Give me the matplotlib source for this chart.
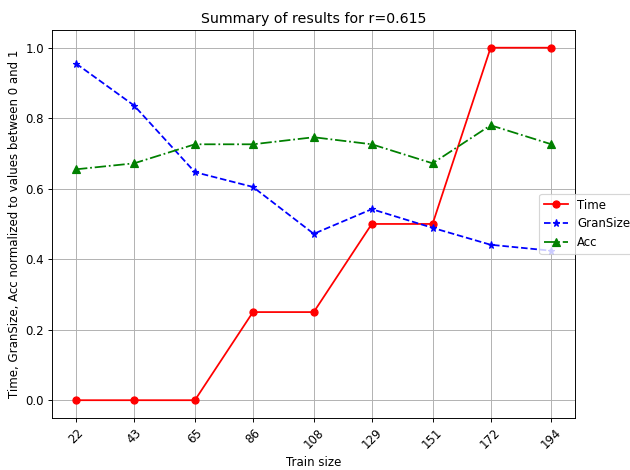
import matplotlib
matplotlib.use('Agg')
import matplotlib.pyplot as plt

train_sizes = [22, 43, 65, 86, 108, 129, 151, 172, 194]
time_vals = [0.0, 0.0, 0.0, 0.25, 0.25, 0.5, 0.5, 1.0, 1.0]
gran_vals = [0.955, 0.836, 0.647, 0.605, 0.472, 0.542, 0.489, 0.441, 0.424]
acc_vals = [0.655, 0.672, 0.726, 0.726, 0.746, 0.726, 0.672, 0.780, 0.726]

# rendered at a reduced dpi so text and lines come out a bit smaller
dpi = 85
fig = plt.figure(figsize=(630 / dpi, 470 / dpi), dpi=dpi)
ax = fig.add_axes([0.083, 0.111, 0.83, 0.825])

ax.plot(train_sizes, time_vals, 'r-o', label='Time')
ax.plot(train_sizes, gran_vals, 'b--*', label='GranSize')
ax.plot(train_sizes, acc_vals, 'g-.^', label='Acc')

ax.set_xticks(train_sizes)
ax.set_xticklabels([str(s) for s in train_sizes], rotation=45)
ax.set_title('Summary of results for r=0.615')
ax.set_xlabel('Train size')
ax.set_ylabel('Time, GranSize, Acc normalized to values between 0 and 1')
ax.grid(True)
ax.legend(loc='center left', bbox_to_anchor=(0.92, 0.5))

fig.savefig('out.png', dpi=dpi)
